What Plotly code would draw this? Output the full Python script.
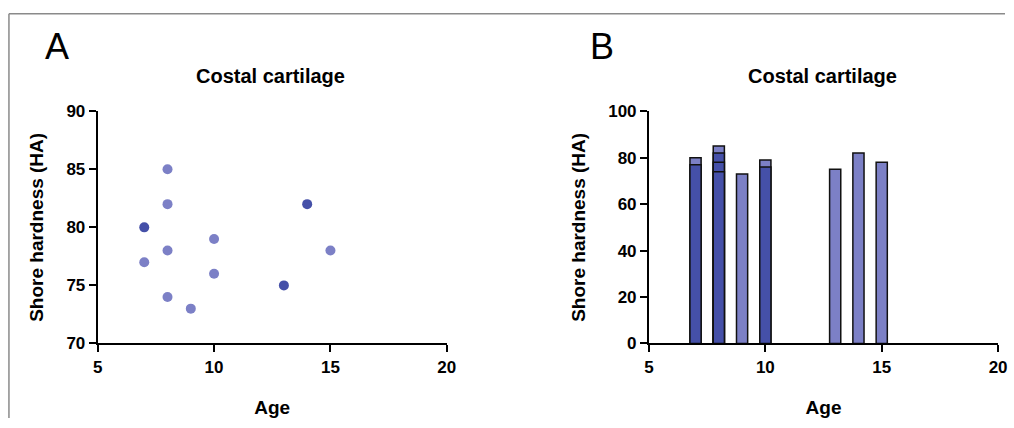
import plotly.graph_objects as go

# Panel A: scatter data
light_age = [7, 8, 8, 8, 8, 9, 10, 10, 15]
light_hard = [77, 85, 82, 78, 74, 73, 79, 76, 78]
dark_age = [7, 13, 14]
dark_hard = [80, 75, 82]

# Panel B: overlapping bars (tallest per age drawn light, overlapped ones dark)
bar_top_age = [7, 8, 9, 10, 13, 14, 15]
bar_top_hard = [80, 85, 73, 79, 75, 82, 78]
bar_low_age = [7, 8, 8, 8, 10]
bar_low_hard = [77, 82, 78, 74, 76]

x_ticks = [5, 10, 15, 20]
yA_ticks = [70, 75, 80, 85, 90]
yB_ticks = [0, 20, 40, 60, 80, 100]

LIGHT = "#7c80c6"
DARK = "#4550a8"
FONT = "Liberation Sans Narrow, Liberation Sans, Arial, sans-serif"
W, H = 1014, 428


def px(x):
    return x / W


def py(y):
    return 1 - y / H


fig = go.Figure()
fig.add_trace(go.Scatter(x=light_age, y=light_hard, mode="markers",
                         marker=dict(color=LIGHT, size=10), xaxis="x", yaxis="y"))
fig.add_trace(go.Scatter(x=dark_age, y=dark_hard, mode="markers",
                         marker=dict(color=DARK, size=10), xaxis="x", yaxis="y"))
fig.add_trace(go.Bar(x=bar_top_age, y=bar_top_hard, width=0.48,
                     marker=dict(color=LIGHT, line=dict(color="#111", width=1.5)),
                     xaxis="x2", yaxis="y2"))
fig.add_trace(go.Bar(x=bar_low_age, y=bar_low_hard, width=0.48,
                     marker=dict(color=DARK, line=dict(color="#111", width=1.5)),
                     xaxis="x2", yaxis="y2"))

axis_common = dict(showgrid=False, zeroline=False, showline=True, linecolor="black",
                   linewidth=2, ticks="outside", tickwidth=2, ticklen=7, tickcolor="black",
                   tickfont=dict(family=FONT, size=17, color="black", weight="bold"))
xdomA = [px(94), px(448)]
xdomB = [px(653), px(1007)]
ydom = [py(350), py(107)]
title_font = dict(family=FONT, size=19, color="black")

fig.update_layout(
    width=W, height=H, margin=dict(l=0, r=0, t=0, b=0),
    paper_bgcolor="white", plot_bgcolor="white", showlegend=False,
    barmode="overlay",
    xaxis=dict(domain=xdomA, range=[5, 20], tickvals=x_ticks, anchor="y",
               title=dict(text="<b>Age</b>", font=title_font, standoff=25), **axis_common),
    yaxis=dict(domain=ydom, range=[70, 90], tickvals=yA_ticks, anchor="x",
               title=dict(text="<b>Shore hardness (HA)</b>", font=title_font, standoff=18), **axis_common),
    xaxis2=dict(domain=xdomB, range=[5, 20], tickvals=x_ticks, anchor="y2",
                title=dict(text="<b>Age</b>", font=title_font, standoff=25), **axis_common),
    yaxis2=dict(domain=ydom, range=[0, 100], tickvals=yB_ticks, anchor="x2",
                title=dict(text="<b>Shore hardness (HA)</b>", font=title_font, standoff=18), **axis_common),
)

annots = [
    dict(text="A", x=px(53), y=py(39), font=dict(family="Liberation Sans, Arial", size=36, color="black")),
    dict(text="B", x=px(605), y=py(39), font=dict(family="Liberation Sans, Arial", size=36, color="black")),
    dict(text="<b>Costal cartilage</b>", x=px(269), y=py(70), font=dict(family=FONT, size=20, color="black")),
    dict(text="<b>Costal cartilage</b>", x=px(829), y=py(70), font=dict(family=FONT, size=20, color="black")),
]
for a in annots:
    fig.add_annotation(xref="paper", yref="paper", showarrow=False, xanchor="center", yanchor="middle", **a)

# figure frame (gray top and left border)
fig.add_shape(type="line", xref="paper", yref="paper", x0=px(4), x1=1, y0=py(5), y1=py(5),
              line=dict(color="#8a8a8a", width=1.5))
fig.add_shape(type="line", xref="paper", yref="paper", x0=px(4), x1=px(4), y0=0, y1=py(5),
              line=dict(color="#8a8a8a", width=1.5))

css_js = (
    "var s=document.createElement('style');"
    "s.textContent='html,body{margin:0;padding:0;overflow:hidden;width:1014px;height:428px;}';"
    "document.head.appendChild(s);"
)
fig.write_html("out.html", config={"displayModeBar": False}, post_script=css_js)
